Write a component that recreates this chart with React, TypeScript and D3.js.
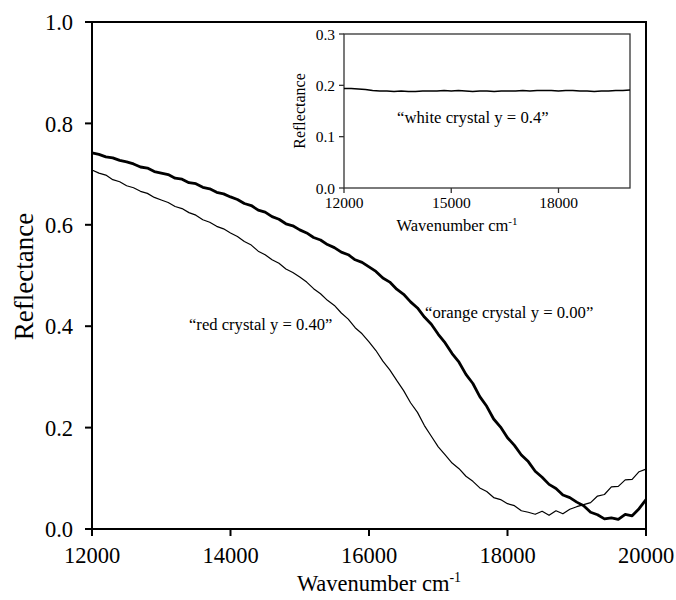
import React from 'react';
import * as d3 from 'd3';

// wavenumber grid (cm-1) for the two main spectra, every 100
const wavenumbers = d3.range(12000, 20001, 100);

// "orange crystal y = 0.00" (thick trace)
const orangeValues = [
  0.742, 0.739, 0.734, 0.732, 0.727, 0.724, 0.720, 0.714, 0.712, 0.705,
  0.702, 0.699, 0.692, 0.690, 0.683, 0.681, 0.674, 0.671, 0.664, 0.661,
  0.655, 0.650, 0.642, 0.638, 0.629, 0.625, 0.616, 0.611, 0.602, 0.598,
  0.590, 0.584, 0.575, 0.570, 0.561, 0.555, 0.546, 0.541, 0.531, 0.526,
  0.517, 0.508, 0.495, 0.487, 0.473, 0.463, 0.448, 0.436, 0.418, 0.404,
  0.384, 0.367, 0.346, 0.329, 0.305, 0.287, 0.261, 0.242, 0.217, 0.201,
  0.180, 0.165, 0.146, 0.133, 0.114, 0.102, 0.088, 0.080, 0.067, 0.062,
  0.053, 0.046, 0.033, 0.028, 0.020, 0.022, 0.019, 0.029, 0.026, 0.040,
  0.058,
];

// "red crystal y = 0.40" (thin trace)
const redValues = [
  0.708, 0.702, 0.698, 0.689, 0.685, 0.677, 0.673, 0.666, 0.662, 0.654,
  0.649, 0.644, 0.636, 0.632, 0.624, 0.619, 0.610, 0.605, 0.597, 0.592,
  0.584, 0.577, 0.567, 0.560, 0.548, 0.541, 0.531, 0.524, 0.513, 0.506,
  0.497, 0.487, 0.474, 0.464, 0.451, 0.441, 0.426, 0.414, 0.397, 0.385,
  0.369, 0.352, 0.331, 0.314, 0.293, 0.273, 0.249, 0.230, 0.204, 0.183,
  0.162, 0.146, 0.130, 0.119, 0.104, 0.094, 0.081, 0.074, 0.062, 0.058,
  0.050, 0.046, 0.036, 0.033, 0.029, 0.035, 0.027, 0.036, 0.030, 0.039,
  0.044, 0.048, 0.052, 0.065, 0.068, 0.083, 0.084, 0.097, 0.098, 0.113,
  0.118,
];

// inset: "white crystal y = 0.4", every 200 cm-1
const insetWavenumbers = d3.range(12000, 20001, 200);
const whiteValues = [
  0.194, 0.194, 0.193, 0.192, 0.190, 0.189, 0.189, 0.188, 0.189, 0.188,
  0.188, 0.189, 0.189, 0.189, 0.190, 0.189, 0.190, 0.189, 0.188, 0.189,
  0.189, 0.188, 0.189, 0.189, 0.189, 0.190, 0.189, 0.190, 0.190, 0.190,
  0.189, 0.190, 0.190, 0.189, 0.189, 0.188, 0.189, 0.189, 0.190, 0.190,
  0.191,
];

const xTicks = [12000, 14000, 16000, 18000, 20000];
const yTicks = [0.0, 0.2, 0.4, 0.6, 0.8, 1.0];
const insetXTicks = [12000, 15000, 18000];
const insetYTicks = [0.0, 0.1, 0.2, 0.3];

const font = "'Liberation Serif', 'DejaVu Serif', serif";

type Pt = { w: number; r: number };

function App() {
  const width = 676;
  const height = 600;
  const margin = { top: 22, right: 30, bottom: 71, left: 92 };

  const x = d3.scaleLinear().domain([12000, 20000]).range([margin.left, width - margin.right]);
  const y = d3.scaleLinear().domain([0, 1]).range([height - margin.bottom, margin.top]);

  const ix = d3.scaleLinear().domain([12000, 20000]).range([344, 630]);
  const iy = d3.scaleLinear().domain([0, 0.3]).range([188, 34]);

  const orange: Pt[] = wavenumbers.map((w, i) => ({ w, r: orangeValues[i] }));
  const red: Pt[] = wavenumbers.map((w, i) => ({ w, r: redValues[i] }));
  const white: Pt[] = insetWavenumbers.map((w, i) => ({ w, r: whiteValues[i] }));

  const line = d3.line<Pt>().x(d => x(d.w)).y(d => y(d.r));
  const insetLine = d3.line<Pt>().x(d => ix(d.w)).y(d => iy(d.r));

  const x0 = x(12000), x1 = x(20000), y0 = y(0), y1 = y(1);
  const ax0 = ix(12000), ax1 = ix(20000), ay0 = iy(0), ay1 = iy(0.3);
  const insetStroke = '#333';

  return (
    <svg width={width} height={height} style={{ position: 'absolute', left: 0, top: 0 }}>
      <rect width={width} height={height} fill="white" />

      <g style={{ fontFamily: font }} fill="black">
        {/* main frame */}
        <rect x={x0} y={y1} width={x1 - x0} height={y0 - y1} fill="none" stroke="black" strokeWidth={2} />

        {yTicks.map(t => (
          <g key={'y' + t}>
            <line x1={x0 - 7} x2={x0} y1={y(t)} y2={y(t)} stroke="black" strokeWidth={2} />
            <text x={x0 - 19} y={y(t)} dy="0.36em" textAnchor="end" fontSize={22.5}>{t.toFixed(1)}</text>
          </g>
        ))}
        {xTicks.map(t => (
          <g key={'x' + t}>
            <line x1={x(t)} x2={x(t)} y1={y0} y2={y0 + 7} stroke="black" strokeWidth={2} />
            <text x={x(t)} y={y0 + 34} textAnchor="middle" fontSize={22.5}>{t}</text>
          </g>
        ))}

        <text transform={`translate(33,${(y0 + y1) / 2 + 1}) rotate(-90)`} textAnchor="middle" fontSize={27}>Reflectance</text>
        <text x={(x0 + x1) / 2 + 10} y={591} textAnchor="middle" fontSize={22.5}>
          Wavenumber cm<tspan dy={-9} fontSize={14}>-1</tspan>
        </text>

        <path d={line(red) || ''} fill="none" stroke="black" strokeWidth={1.2} strokeLinejoin="round" />
        <path d={line(orange) || ''} fill="none" stroke="black" strokeWidth={2.8} strokeLinejoin="round" />

        <text x={189} y={330} fontSize={16.6}>{'\u201Cred crystal y = 0.40\u201D'}</text>
        <text x={425} y={318} fontSize={16.7}>{'\u201Corange crystal y = 0.00\u201D'}</text>

        {/* inset */}
        <rect x={ax0} y={ay1} width={ax1 - ax0} height={ay0 - ay1} fill="white" stroke={insetStroke} strokeWidth={1.3} />
        {insetYTicks.map(t => (
          <g key={'iy' + t}>
            <line x1={ax0 - 5} x2={ax0} y1={iy(t)} y2={iy(t)} stroke={insetStroke} strokeWidth={1.3} />
            <text x={ax0 - 9} y={iy(t)} dy="0.36em" textAnchor="end" fontSize={15.5}>{t.toFixed(1)}</text>
          </g>
        ))}
        {insetXTicks.map(t => (
          <g key={'ix' + t}>
            <line x1={ix(t)} x2={ix(t)} y1={ay0} y2={ay0 + 5} stroke={insetStroke} strokeWidth={1.3} />
            <text x={ix(t)} y={ay0 + 20} textAnchor="middle" fontSize={15.5}>{t}</text>
          </g>
        ))}
        <text transform={`translate(305,${(ay0 + ay1) / 2}) rotate(-90)`} textAnchor="middle" fontSize={16}>Reflectance</text>
        <text x={457} y={231} textAnchor="middle" fontSize={16.5}>
          Wavenumber cm<tspan dy={-6} fontSize={11}>-1</tspan>
        </text>
        <path d={insetLine(white) || ''} fill="none" stroke="black" strokeWidth={1.5} strokeLinejoin="round" />
        <text x={397} y={123} fontSize={16.7}>{'\u201Cwhite crystal y = 0.4\u201D'}</text>
      </g>
    </svg>
  );
}

export default App;
